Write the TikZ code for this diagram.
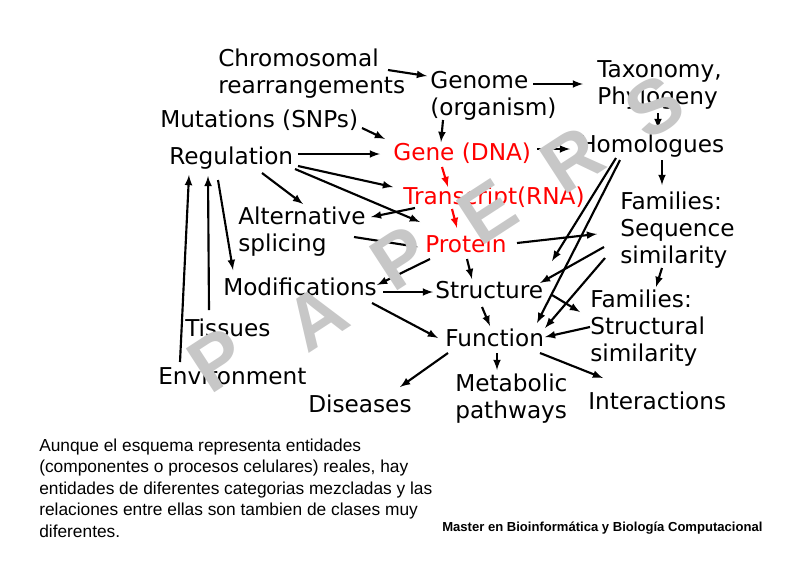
\documentclass[tikz,border=0pt]{standalone}
\usepackage{fontspec}
\setmainfont{DejaVu Sans}
\newfontfamily\notafont{Liberation Sans}
\usetikzlibrary{arrows, calc}
\tikzstyle{entidad} = [anchor=base west, inner sep=0pt, align=left, font=\fontsize{17.4}{20.25}\selectfont]
\tikzstyle{roja} = [entidad, text=red]
\tikzstyle{flecha} = [-latex, line width=1.6pt]
\tikzstyle{flecharoja} = [flecha, red]
\tikzstyle{marca} = [inner sep=0pt, text=black!22, rotate=33, font=\notafont\bfseries\fontsize{57}{57}\selectfont]
\tikzstyle{nota} = [anchor=base west, inner sep=0pt, align=left, font=\notafont\fontsize{13}{16.1}\selectfont]
\tikzstyle{master} = [anchor=base west, inner sep=0pt, font=\notafont\bfseries\fontsize{9.8}{11}\selectfont]

\begin{document}
\begin{tikzpicture}[x=0.75pt, y=-0.75pt]
	\useasboundingbox (0,0) rectangle (800,565);
	% entidades (base = ultima linea)
	\node[entidad] (chrom) at (218,93) {Chromosomal\\rearrangements};
	\node[entidad] (genome) at (430,115) {Genome\\(organism)};
	\node[entidad] (taxo) at (597,104) {Taxonomy,\\Phylogeny};
	\node[entidad] (mut) at (160,127) {Mutations (SNPs)};
	\node[entidad] (reg) at (169,164) {Regulation};
	\node[roja] (gene) at (393,160) {Gene (DNA)};
	\node[entidad] (homol) at (579,152) {Homologues};
	\node[roja] (trans) at (403,204) {Transcript(RNA)};
	\node[entidad] (famseq) at (620,263) {Families:\\Sequence\\similarity};
	\node[entidad] (alt) at (238,251) {Alternative\\splicing};
	\node[roja] (prot) at (425,252) {Protein};
	\node[entidad] (modif) at (223,295) {Modifications};
	\node[entidad] (struct) at (435,298) {Structure};
	\node[entidad] (famstr) at (590,361) {Families:\\Structural\\similarity};
	\node[entidad] (tiss) at (185,336) {Tissues};
	\node[entidad] (func) at (445,346) {Function};
	\node[entidad] (env) at (158,384) {Environment};
	\node[entidad] (dis) at (308,412) {Diseases};
	\node[entidad] (metab) at (455,418) {Metabolic\\pathways};
	\node[entidad] (inter) at (588,409) {Interactions};
	% flechas
	\draw[flecha] ($(chrom.base west)+(170,-23)$) -- ($(genome.base west)+(-3,-39)$);
	\draw[flecha] ($(genome.base west)+(103,-31)$) -- ($(taxo.base west)+(-14,-20)$);
	\draw[flecha] ($(genome.base west)+(13,5)$) -- ($(gene.base west)+(48,-18)$);
	\draw[flecha] ($(mut.base west)+(202,1)$) -- ($(gene.base west)+(-8,-21)$);
	\draw[flecha] ($(reg.base west)+(129,-10)$) -- ($(gene.base west)+(-13,-6)$);
	\draw[flecha] ($(reg.base west)+(129,2)$) -- ($(trans.base west)+(-10,-17)$);
	\draw[flecha] ($(reg.base west)+(126,5)$) -- ($(prot.base west)+(-5,-30)$);
	\draw[flecha] ($(reg.base west)+(93,9)$) -- ($(alt.base west)+(65,-47)$);
	\draw[flecha] ($(gene.base west)+(144,-11)$) -- ($(homol.base west)+(-9,-3)$);
	\draw[flecha] ($(taxo.base west)+(61,9)$) -- ($(homol.base west)+(79,-23)$);
	\draw[flecha] ($(homol.base west)+(83,8)$) -- ($(famseq.base west)+(42,-78)$);
	\draw[flecha] ($(homol.base west)+(37,6)$) -- ($(struct.base west)+(117,-37)$);
	\draw[flecha] ($(homol.base west)+(41,8)$) -- ($(func.base west)+(92,-23)$);
	\draw[flecharoja] ($(gene.base west)+(49,7)$) -- ($(trans.base west)+(45,-17)$);
	\draw[flecharoja] ($(trans.base west)+(49,5)$) -- ($(prot.base west)+(32,-24)$);
	\draw[flecha] ($(trans.base west)+(12,4)$) -- ($(alt.base west)+(133,-34)$);
	\draw[flecha] ($(alt.base west)+(116,-14)$) -- ($(prot.base west)+(-7,-5)$);
	\draw[flecha] ($(prot.base west)+(92,-9)$) -- ($(famseq.base west)+(-23,-29)$);
	\draw[flecha] ($(prot.base west)+(42,7)$) -- ($(struct.base west)+(37,-19)$);
	\draw[flecha] ($(prot.base west)+(5,7)$) -- ($(modif.base west)+(154,-10)$);
	\draw[flecha] ($(famseq.base west)+(-16,-16)$) -- ($(struct.base west)+(105,-15)$);
	\draw[flecha] ($(famseq.base west)+(-15,-5)$) -- ($(func.base west)+(100,-18)$);
	\draw[flecha] ($(famseq.base west)+(42,5)$) -- ($(famstr.base west)+(66,-74)$);
	\draw[flecha] ($(struct.base west)+(117,-3)$) -- ($(famstr.base west)+(-10,-49)$);
	\draw[flecha] ($(famstr.base west)+(0,-34)$) -- ($(func.base west)+(100,-9)$);
	\draw[flecha] ($(struct.base west)+(47,9)$) -- ($(func.base west)+(45,-20)$);
	\draw[flecha] ($(modif.base west)+(160,-3)$) -- ($(struct.base west)+(-2,-6)$);
	\draw[flecha] ($(modif.base west)+(149,8)$) -- ($(func.base west)+(-7,-8)$);
	\draw[flecha] ($(func.base west)+(3,7)$) -- ($(dis.base west)+(92,-25)$);
	\draw[flecha] ($(func.base west)+(52,7)$) -- ($(metab.base west)+(42,-48)$);
	\draw[flecha] ($(func.base west)+(95,7)$) -- ($(inter.base west)+(15,-31)$);
	\draw[flecha] ($(env.base west)+(22,-22)$) -- ($(reg.base west)+(20,11)$);
	\draw[flecha] ($(tiss.base west)+(24,-26)$) -- ($(reg.base west)+(39,12)$);
	\draw[flecha] ($(reg.base west)+(49,16)$) -- ($(modif.base west)+(10,-25)$);
	% marca de agua
	\foreach \letra/\px/\py [count=\i] in {P/218/360, A/316/318, P/401/258, E/488/212, R/572/160, S/655/107}
		\node[marca] (marca\i) at (\px,\py) {\letra};
	% textos
	\node[nota] (nota) at (39,537) {Aunque el esquema representa entidades\\(componentes o procesos celulares) reales, hay\\entidades de diferentes categorias mezcladas y las\\relaciones entre ellas son tambien de clases muy\\diferentes.};
	\node[master] (master) at (442,531) {Master en Bioinformática y Biología Computacional};
\end{tikzpicture}
\end{document}
